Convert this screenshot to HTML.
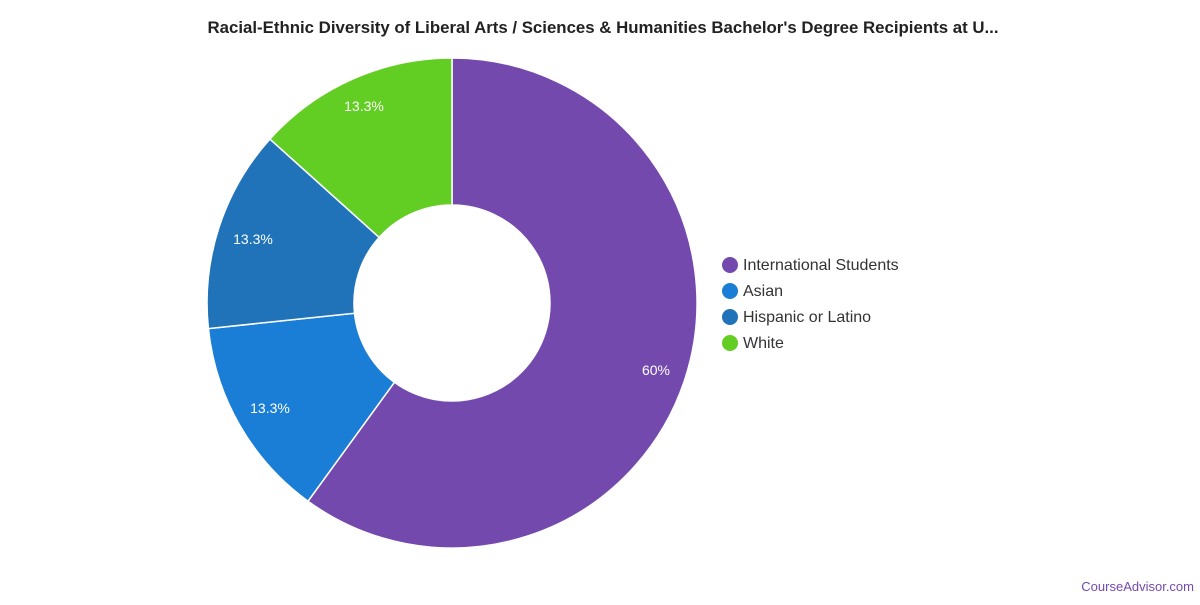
<!DOCTYPE html>
<html><head><meta charset="utf-8"><style>
body{margin:0;width:1200px;height:600px;background:#fff;overflow:hidden;font-family:"Liberation Sans",sans-serif}
</style></head><body>
<svg width="1200" height="600" xmlns="http://www.w3.org/2000/svg" font-family="Liberation Sans, sans-serif">
<text x="603" y="33" text-anchor="middle" font-size="17" font-weight="bold" fill="#222" textLength="791" lengthAdjust="spacingAndGlyphs">Racial-Ethnic Diversity of Liberal Arts / Sciences &amp; Humanities Bachelor's Degree Recipients at U...</text>
<g stroke="#fff" stroke-width="1.5">
<path d="M452,58 A245,245 0 1 1 308.0,501.2 L394.4,382.3 A98,98 0 1 0 452,205 Z" fill="#7449AE"/>
<path d="M308.0,501.2 A245,245 0 0 1 208.4,328.6 L354.5,313.2 A98,98 0 0 0 394.4,382.3 Z" fill="#1A7ED6"/>
<path d="M208.4,328.6 A245,245 0 0 1 269.9,139.1 L379.2,237.4 A98,98 0 0 0 354.5,313.2 Z" fill="#2073B9"/>
<path d="M269.9,139.1 A245,245 0 0 1 452,58 L452,205 A98,98 0 0 0 379.2,237.4 Z" fill="#62CD22"/>
</g>
<g fill="#fff" font-size="14" text-anchor="middle">
<text x="656" y="375">60%</text>
<text x="270" y="413">13.3%</text>
<text x="253" y="244">13.3%</text>
<text x="364" y="111">13.3%</text>
</g>
<g font-size="16" fill="#333">
<circle cx="730" cy="265" r="8" fill="#7449AE"/><text x="743" y="270">International Students</text>
<circle cx="730" cy="291" r="8" fill="#1A7ED6"/><text x="743" y="296">Asian</text>
<circle cx="730" cy="317" r="8" fill="#2073B9"/><text x="743" y="322">Hispanic or Latino</text>
<circle cx="730" cy="343" r="8" fill="#62CD22"/><text x="743" y="348">White</text>
</g>
<text x="1194" y="591" text-anchor="end" font-size="13" fill="#7449AE">CourseAdvisor.com</text>
</svg>
</body></html>
